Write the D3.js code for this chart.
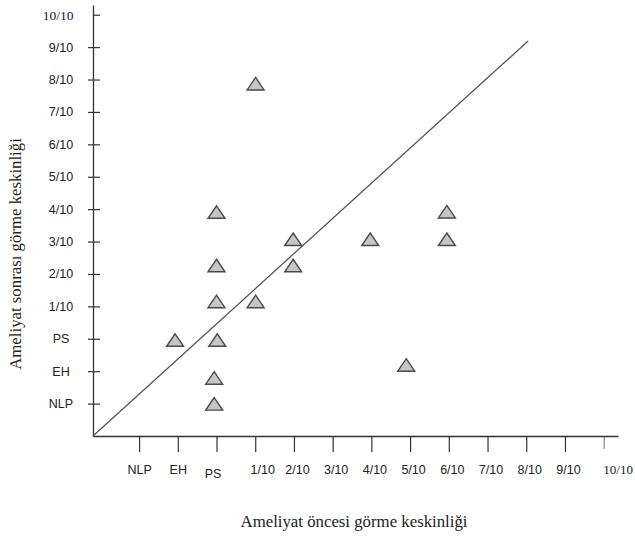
<!DOCTYPE html>
<html>
<head>
<meta charset="utf-8">
<script src="https://cdn.jsdelivr.net/npm/d3@7"></script>
<style>
  html, body { margin: 0; padding: 0; background: #fff; }
  svg { display: block; }
</style>
</head>
<body>
<svg id="grafik"></svg>
<script>
const genislik = 635;
const yukseklik = 539;

// eksen etiketleri (sıra numarası 1..13)
const xEtiketleri = ["NLP", "EH", "PS", "1/10", "2/10", "3/10", "4/10", "5/10", "6/10", "7/10", "8/10", "9/10", "10/10"];
const yEtiketleri = ["NLP", "EH", "PS", "1/10", "2/10", "3/10", "4/10", "5/10", "6/10", "7/10", "8/10", "9/10", "10/10"];

// hastalar: ameliyat öncesi (x) ve sonrası (y), eksen sırası cinsinden
const oncesi =  [4.01, 3.0, 4.98, 3.0, 4.98, 3.0, 4.01, 1.93, 3.02, 2.94, 2.94, 8.95, 6.97, 8.95, 7.9];
const sonrasi = [10.87, 6.91, 6.07, 5.26, 5.26, 4.15, 4.15, 2.96, 2.96, 1.79, 0.99, 6.92, 6.07, 6.07, 2.19];

// eşitlik çizgisi uçları
const esitlikCizgisi = [[-0.19, 0], [11.05, 12.19]];

const svg = d3.select("#grafik")
  .attr("width", genislik)
  .attr("height", yukseklik);

const x = d3.scaleLinear().domain([-0.19, 13.37]).range([93, 618]);
const y = d3.scaleLinear().domain([0, 13.3]).range([436, 5]);

const eksenRengi = "#333";
const yaziRengi = "#222";
const yaziSans = "'Liberation Sans', Arial, sans-serif";
const yaziSerif = "'Liberation Serif', 'Times New Roman', serif";

// x ekseni
const xEkseni = svg.append("g")
  .attr("transform", `translate(0,${y(0)})`)
  .call(d3.axisBottom(x)
    .tickValues(d3.range(1, 14))
    .tickFormat(i => xEtiketleri[i - 1])
    .tickSizeInner(16)
    .tickSizeOuter(0));

xEkseni.select(".domain").attr("stroke", eksenRengi).attr("stroke-width", 1.3);
xEkseni.selectAll(".tick line")
  .attr("stroke", eksenRengi)
  .attr("stroke-width", 1.2)
  .attr("y2", i => i === 13 ? 13 : 16)
  .attr("opacity", i => i === 13 ? 0.6 : 1);
xEkseni.selectAll(".tick text")
  .attr("fill", yaziRengi)
  .attr("font-family", i => i === 13 ? yaziSerif : yaziSans)
  .attr("font-size", i => i === 13 ? 13 : 12.5)
  .attr("dy", null)
  .attr("y", i => i === 3 ? 42 : 38)
  .attr("x", i => i === 13 ? 14 : i === 3 ? -4 : i === 4 ? 7 : i <= 2 ? 0 : 3);

// y ekseni
const yEkseni = svg.append("g")
  .attr("transform", `translate(${x(-0.19)},0)`)
  .call(d3.axisLeft(y)
    .tickValues(d3.range(1, 14))
    .tickFormat(i => yEtiketleri[i - 1])
    .tickSizeInner(5)
    .tickSizeOuter(0));

yEkseni.select(".domain").attr("stroke", eksenRengi).attr("stroke-width", 1.3);
yEkseni.selectAll(".tick line")
  .attr("stroke", eksenRengi)
  .attr("stroke-width", 1.2)
  .attr("x1", i => i === 13 ? 0 : -5)
  .attr("x2", 7);
yEkseni.selectAll(".tick text")
  .attr("fill", yaziRengi)
  .attr("font-family", i => i === 13 ? yaziSerif : yaziSans)
  .attr("font-size", i => i === 13 ? 13.5 : 12.5)
  .attr("text-anchor", "middle")
  .attr("x", i => i === 13 ? -35 : -32);

// eşitlik çizgisi
svg.append("path")
  .datum(esitlikCizgisi)
  .attr("fill", "none")
  .attr("stroke", "#555")
  .attr("stroke-width", 1.3)
  .attr("d", d3.line().x(d => x(d[0])).y(d => y(d[1])));

// üçgenler
const ucgen = "M0,-6.3L8.5,6.2L-8.5,6.2Z";
svg.append("g")
  .selectAll("path")
  .data(d3.range(oncesi.length))
  .join("path")
  .attr("d", ucgen)
  .attr("transform", i => `translate(${x(oncesi[i])},${y(sonrasi[i])})`)
  .attr("fill", "#c6c6c6")
  .attr("stroke", "#4a4a4a")
  .attr("stroke-width", 1.4)
  .attr("stroke-linejoin", "miter");

// eksen başlıkları
svg.append("text")
  .attr("x", 354)
  .attr("y", 527)
  .attr("text-anchor", "middle")
  .attr("font-family", yaziSerif)
  .attr("font-size", 16.8)
  .attr("fill", yaziRengi)
  .text("Ameliyat öncesi görme keskinliği");

svg.append("text")
  .attr("transform", "translate(21,254) rotate(-90)")
  .attr("text-anchor", "middle")
  .attr("font-family", yaziSerif)
  .attr("font-size", 16.8)
  .attr("fill", yaziRengi)
  .text("Ameliyat sonrası görme keskinliği");
</script>
</body>
</html>
